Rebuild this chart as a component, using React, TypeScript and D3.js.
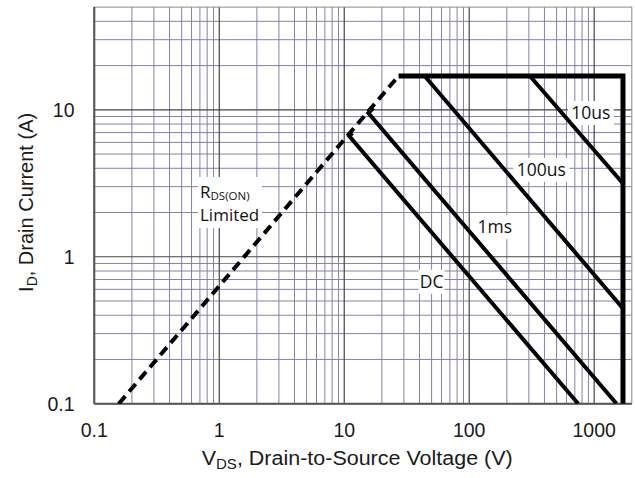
import React from "react";
import * as d3 from "d3";

// Axis domains and tick values (log-log SOA chart)
const vdsDomain: [number, number] = [0.1, 2000];
const idDomain: [number, number] = [0.1, 50];
const vdsTicks = [0.1, 1, 10, 100, 1000];
const idTicks = [0.1, 1, 10];
const tickText = (v: number) => (v < 1 ? String(v) : d3.format("d")(v));

// Safe operating area curves, points as [V_DS (V), I_D (A)]
const rdsOnLimit: [number, number][] = [[0.157, 0.1], [27.2, 17]];
const soaBoundary: [number, number][] = [[27.2, 17], [1700, 17], [1700, 0.1]];
const pulse10us: [number, number][] = [[306, 17], [1700, 3.15]];
const pulse100us: [number, number][] = [[44, 17], [1700, 0.445]];
const pulse1ms: [number, number][] = [[17.1, 10.3], [15.6, 9.5], [1510, 0.1]];
const dcCurve: [number, number][] = [[11.6, 6.95], [11.0, 6.6], [745, 0.1]];

// Curve labels anchored at [V_DS, I_D]
const curveLabels = [
  { text: "10us", v: 940, i: 9.5 },
  { text: "100us", v: 378, i: 3.9 },
  { text: "1ms", v: 160, i: 1.59 },
  { text: "DC", v: 50, i: 0.676 },
];

const W = 635;
const H = 478;
const left = 94.3;
const right = 631.8;
const top = 7.1;
const bottom = 403.7;

export default function App() {
  const x = d3.scaleLog().domain(vdsDomain).range([left, right]);
  const y = d3.scaleLog().domain(idDomain).range([bottom, top]);
  const line = d3
    .line<[number, number]>()
    .x((d) => x(d[0]))
    .y((d) => y(d[1]));

  const minorX: number[] = [];
  for (const d of vdsTicks)
    for (let k = 2; k <= 9; k++) if (k * d < vdsDomain[1]) minorX.push(k * d);
  const minorY: number[] = [];
  for (const d of idTicks)
    for (let k = 2; k <= 9; k++) if (k * d < idDomain[1]) minorY.push(k * d);

  const minorColor = "#8582a8";
  const majorColor = "#454545";
  const labelFont = "'Open Sans', sans-serif";
  const axisFont = "'Liberation Sans', Arial, sans-serif";

  return (
    <svg
      width={W}
      height={H}
      style={{ position: "absolute", left: 0, top: 0, background: "#fff" }}
    >
      <defs>
        <clipPath id="plot">
          <rect x={left} y={top} width={right - left} height={bottom - top} />
        </clipPath>
      </defs>
      <rect x={0} y={0} width={W} height={H} fill="#fff" />

      {/* grid */}
      <g>
        {minorX.map((v) => (
          <line key={"mx" + v} x1={x(v)} x2={x(v)} y1={top} y2={bottom} stroke={minorColor} strokeWidth={1} />
        ))}
        {minorY.map((v) => (
          <line key={"my" + v} x1={left} x2={right} y1={y(v)} y2={y(v)} stroke={minorColor} strokeWidth={1} />
        ))}
        {vdsTicks.map((v) => (
          <line key={"Mx" + v} x1={x(v)} x2={x(v)} y1={top} y2={bottom} stroke={majorColor} strokeWidth={1.2} />
        ))}
        {idTicks.map((v) => (
          <line key={"My" + v} x1={left} x2={right} y1={y(v)} y2={y(v)} stroke={majorColor} strokeWidth={1.2} />
        ))}
        <rect x={left} y={top} width={right - left} height={bottom - top} fill="none" stroke="#8a8a8a" strokeWidth={1} />
        <line x1={left} x2={left} y1={top} y2={bottom} stroke="#555" strokeWidth={2} />
        <line x1={left} x2={right} y1={bottom} y2={bottom} stroke="#555" strokeWidth={2} />
      </g>

      {/* white boxes behind labels */}
      <rect x={198} y={177} width={64} height={51} fill="#fff" />
      {curveLabels.map((l) => {
        const w = l.text.length * 10 + 6;
        return (
          <rect key={"b" + l.text} x={x(l.v) - w / 2} y={y(l.i) - 12} width={w} height={24} fill="#fff" />
        );
      })}

      {/* curves */}
      <g clipPath="url(#plot)" fill="none" stroke="#000">
        <path d={line(rdsOnLimit) || ""} strokeWidth={4} strokeDasharray="10 6" />
        <path d={line(soaBoundary) || ""} strokeWidth={5} strokeLinejoin="miter" />
        <path d={line(pulse10us) || ""} strokeWidth={4} />
        <path d={line(pulse100us) || ""} strokeWidth={4} />
        <path d={line(pulse1ms) || ""} strokeWidth={4} strokeLinejoin="miter" />
        <path d={line(dcCurve) || ""} strokeWidth={4} strokeLinejoin="miter" />
      </g>

      {/* curve labels */}
      {curveLabels.map((l) => (
        <text
          key={l.text}
          x={x(l.v)}
          y={y(l.i) + 6.3}
          textAnchor="middle"
          fontFamily={labelFont}
          fontSize={17.5}
          fill="#111"
        >
          {l.text}
        </text>
      ))}
      <text x={200} y={198} fontFamily={labelFont} fontSize={17} fill="#111">
        R<tspan fontSize={11.5} dy={2}>DS(ON)</tspan>
      </text>
      <text x={200} y={221} fontFamily={labelFont} fontSize={17} fill="#111">
        Limited
      </text>

      {/* tick labels */}
      {vdsTicks.map((v) => (
        <text key={"tx" + v} x={x(v)} y={436.5} textAnchor="middle" fontFamily={axisFont} fontSize={19.5} fill="#1a1a1a">
          {tickText(v)}
        </text>
      ))}
      {idTicks.map((v) => (
        <text key={"ty" + v} x={74.5} y={y(v) + 7} textAnchor="end" fontFamily={axisFont} fontSize={19.5} fill="#1a1a1a">
          {tickText(v)}
        </text>
      ))}

      {/* axis titles */}
      <text x={201.7} y={465} fontFamily={axisFont} fontSize={20} fill="#1a1a1a" textLength={311} lengthAdjust="spacingAndGlyphs">
        V<tspan fontSize={14} dy={4}>DS</tspan>
        <tspan dy={-4}>, Drain-to-Source Voltage (V)</tspan>
      </text>
      <text
        transform="translate(33,202.4) rotate(-90)"
        textAnchor="middle"
        fontFamily={axisFont}
        fontSize={20}
        fill="#1a1a1a"
      >
        I<tspan fontSize={14} dy={4}>D</tspan>
        <tspan dy={-4}>, Drain Current (A)</tspan>
      </text>
    </svg>
  );
}
